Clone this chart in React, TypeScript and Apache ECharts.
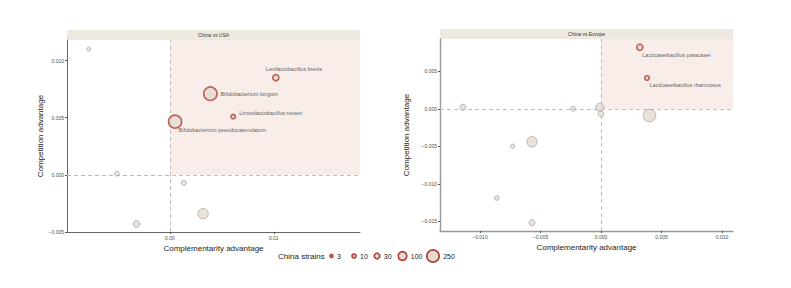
import React, { useEffect, useRef } from "react";
import * as echarts from "echarts";

// ---- Data: China vs USA ----
const usaNames = ["", "Levilactobacillus brevis", "Bifidobacterium longum", "Limosilactobacillus reuteri", "Bifidobacterium pseudocatenulatum", "", "", "", ""];
const usaX = [-0.0078, 0.0102, 0.0039, 0.0061, 0.0005, -0.0051, 0.00135, -0.0032, 0.0032];
const usaY = [0.011, 0.0085, 0.0071, 0.0051, 0.00465, 0.0001, -0.0007, -0.0043, -0.0034];
const usaN = [3, 40, 300, 15, 280, 10, 12, 35, 130];

// ---- Data: China vs Europe ----
const eurNames = ["Lacticaseibacillus paracasei", "Lacticaseibacillus rhamnosus", "", "", "", "", "", "", "", "", ""];
const eurX = [0.0032, 0.0038, -0.0114, -0.0023, -0.0001, 0.0, 0.004, -0.0057, -0.0073, -0.0086, -0.0057];
const eurY = [0.0082, 0.0041, 0.0002, 0.0, 0.0002, -0.0007, -0.0009, -0.0044, -0.005, -0.0119, -0.0152];
const eurN = [40, 15, 25, 10, 60, 20, 220, 130, 5, 8, 25];

// ---- Axis ticks ----
const usaXTicks = [0, 0.01];
const usaYTicks = [-0.005, 0, 0.005, 0.01];
const eurXTicks = [-0.01, -0.005, 0, 0.005, 0.01];
const eurYTicks = [-0.015, -0.01, -0.005, 0, 0.005];

// ---- Legend ----
const legendTitle = "China strains";
const legendValues = [3, 10, 30, 100, 250];

// label offsets (style)
const usaLabelOffsets: Record<string, [number, number]> = {
  "Levilactobacillus brevis": [-10, -9],
  "Bifidobacterium longum": [10, 0],
  "Limosilactobacillus reuteri": [6, -4],
  "Bifidobacterium pseudocatenulatum": [3.5, 8.5],
};
const eurLabelOffsets: Record<string, [number, number]> = {
  "Lacticaseibacillus paracasei": [2.5, 8],
  "Lacticaseibacillus rhamnosus": [2.5, 7],
};

const FONT = "Liberation Sans, Arial, sans-serif";
const RED = "#b4433a";
const FILL = "#e2dbd1";
const GREY_STROKE = "#968e86";

const diam = (n: number) => 3.6 + 0.66 * Math.sqrt(n);

function fmt(v: number, d: number) {
  const s = Math.abs(v).toFixed(d);
  return v < -1e-12 ? "\u2212" + s : s;
}

function buildData(xs: number[], ys: number[], ns: number[], names: string[], offsets: Record<string, [number, number]>) {
  return xs.map((x, i) => {
    const red = x > 0 && ys[i] > 0;
    const sw = red ? 1.7 : 0.7;
    const item: any = {
      value: [x, ys[i], ns[i]],
      name: names[i],
      symbolSize: Math.max(diam(ns[i]) - sw, 1.5),
      itemStyle: { color: FILL, borderColor: red ? RED : GREY_STROKE, borderWidth: sw },
    };
    if (names[i]) {
      const off = offsets[names[i]] || [6, 0];
      item.label = {
        show: true,
        formatter: names[i],
        position: "inside",
        align: "left",
        verticalAlign: "middle",
        offset: off,
        fontSize: 5.5,
        color: "#333",
        fontFamily: FONT,
      };
    }
    return item;
  });
}

export default function App() {
  const ref = useRef<HTMLDivElement>(null);
  useEffect(() => {
    document.body.style.margin = "0";
    const chart = echarts.init(ref.current!, null, { renderer: "svg" });

    const grids = [
      { left: 67, top: 40, width: 293, height: 192 },
      { left: 440, top: 39, width: 293, height: 192 },
    ];
    const ranges = [
      { xmin: -0.0099, xmax: 0.0183, ymin: -0.005, ymax: 0.0118, xt: usaXTicks, yt: usaYTicks, xd: 2, yd: 3 },
      { xmin: -0.0133, xmax: 0.0109, ymin: -0.0163, ymax: 0.0093, xt: eurXTicks, yt: eurYTicks, xd: 3, yd: 3 },
    ];
    const axisLineColors = ["#666", "#999"];

    const xAxis = ranges.map((r, i) => ({
      type: "value",
      gridIndex: i,
      min: r.xmin,
      max: r.xmax,
      name: "Complementarity advantage",
      nameLocation: "middle",
      nameGap: 9,
      nameTextStyle: { fontSize: 8, color: "#222", fontFamily: FONT, verticalAlign: "top" },
      axisLine: { show: true, onZero: false, lineStyle: { color: axisLineColors[i], width: i === 1 ? 1.4 : 1 } },
      axisTick: { show: true, length: 2, customValues: r.xt, lineStyle: { color: "#555" } },
      axisLabel: { fontSize: 5, color: "#4d4d4d", margin: 3, fontFamily: FONT, customValues: r.xt, formatter: (v: number) => fmt(v, r.xd) },
      splitLine: { show: false },
    }));
    const yAxis = ranges.map((r, i) => ({
      type: "value",
      gridIndex: i,
      min: r.ymin,
      max: r.ymax,
      name: "Competition advantage",
      nameLocation: "middle",
      nameGap: i === 0 ? 22 : 30,
      nameRotate: 90,
      nameTextStyle: { fontSize: 8, color: "#222", fontFamily: FONT },
      axisLine: { show: true, onZero: false, lineStyle: { color: axisLineColors[i], width: i === 1 ? 1.4 : 1 } },
      axisTick: { show: true, length: 2, customValues: r.yt, lineStyle: { color: "#555" } },
      axisLabel: { fontSize: 5, color: "#4d4d4d", margin: 3, fontFamily: FONT, customValues: r.yt, formatter: (v: number) => fmt(v, r.yd) },
      splitLine: { show: false },
    }));

    const datasets = [
      buildData(usaX, usaY, usaN, usaNames, usaLabelOffsets),
      buildData(eurX, eurY, eurN, eurNames, eurLabelOffsets),
    ];

    const series = datasets.map((d, i) => ({
      type: "scatter",
      xAxisIndex: i,
      yAxisIndex: i,
      symbol: "circle",
      data: d,
      z: 5,
      markArea: {
        silent: true,
        itemStyle: { color: "#f8ede9" },
        data: [[{ coord: [0, 0] }, { coord: [ranges[i].xmax, ranges[i].ymax] }]],
      },
      markLine: {
        silent: true,
        symbol: "none",
        label: { show: false },
        lineStyle: { color: "#bdbdbd", type: [4, 3], width: 1 },
        data: [{ xAxis: 0 }, { yAxis: 0 }],
      },
    }));

    const titles = ["China vs USA", "China vs Europe"];
    const graphic: any[] = [];
    grids.forEach((g, i) => {
      graphic.push({
        type: "rect",
        shape: { x: g.left, y: g.top - 10, width: g.width, height: 10 },
        style: { fill: "#eee9e0" },
        silent: true,
      });
      graphic.push({
        type: "text",
        x: g.left + g.width / 2,
        y: g.top - 5,
        style: { text: titles[i], fontSize: 5, fill: "#333", fontFamily: FONT, align: "center", verticalAlign: "middle" },
        silent: true,
      });
    });

    // legend
    const ly = 256;
    graphic.push({
      type: "text",
      x: 278,
      y: ly,
      style: { text: legendTitle, fontSize: 8, fill: "#222", fontFamily: FONT, align: "left", verticalAlign: "middle" },
    });
    const legendX = [331.5, 354, 377, 402.5, 433];
    legendValues.forEach((v, i) => {
      const sw = 1.7;
      const r = (diam(v) - sw) / 2;
      graphic.push({
        type: "circle",
        shape: { cx: legendX[i], cy: ly, r },
        style: { fill: FILL, stroke: RED, lineWidth: sw },
      });
      graphic.push({
        type: "text",
        x: legendX[i] + r + 4,
        y: ly,
        style: { text: String(v), fontSize: 7, fill: "#222", fontFamily: FONT, align: "left", verticalAlign: "middle" },
      });
    });

    chart.setOption({
      animation: false,
      backgroundColor: "#ffffff",
      textStyle: { fontFamily: FONT },
      grid: grids,
      xAxis,
      yAxis,
      series,
      graphic,
    } as any);
    return () => chart.dispose();
  }, []);
  return <div ref={ref} style={{ width: 791, height: 288 }} />;
}
